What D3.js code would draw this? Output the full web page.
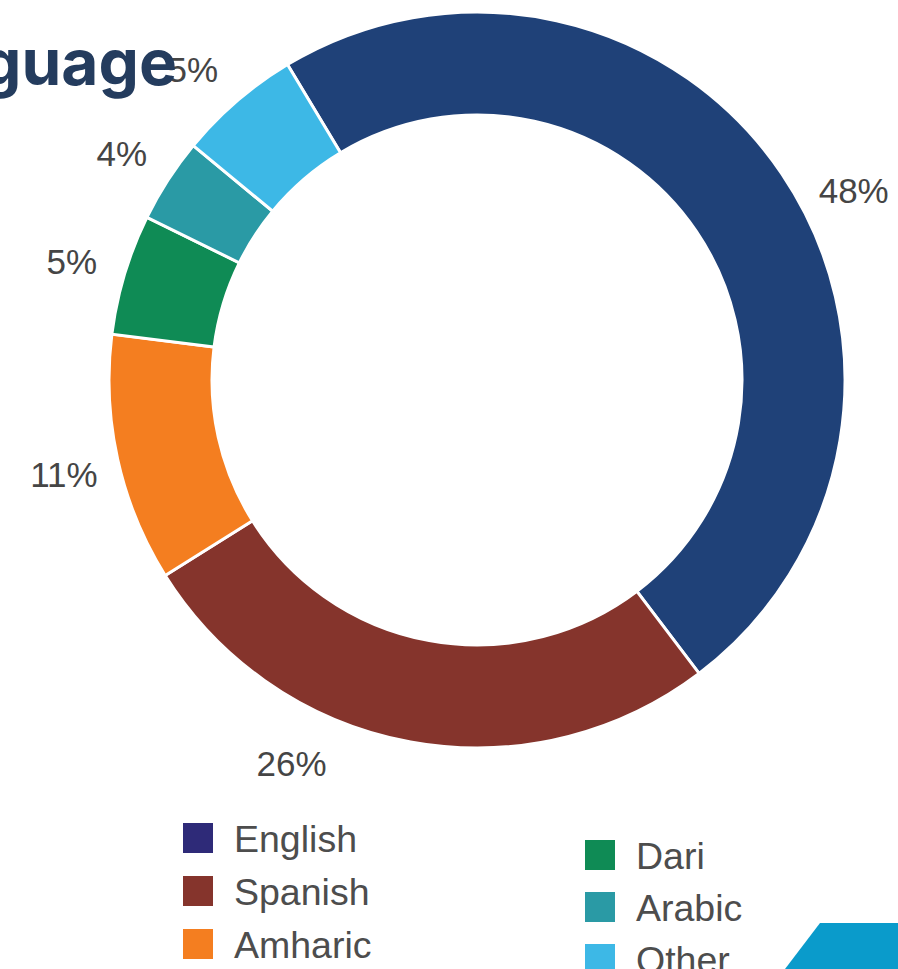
<!DOCTYPE html>
<html><head><meta charset="utf-8">
<script src="https://cdn.jsdelivr.net/npm/d3@7"></script>
<style>html,body{margin:0;padding:0;background:#fff;overflow:hidden}</style>
</head><body>
<svg id="chart" width="898" height="969"></svg>
<script>
const categories = ["English", "Spanish", "Amharic", "Dari", "Arabic", "Other"];
const values = [48.3, 26.4, 10.9, 5.3, 3.7, 5.4];
const sliceColors = ["#1f4178", "#85342c", "#f47e20", "#0f8b55", "#2a9aa5", "#3db8e6"];
const legendColors = ["#2e2a78", "#85342c", "#f47e20", "#0f8b55", "#2a9aa5", "#3db8e6"];
const title = "Language";

const svg = d3.select("#chart");
const W = 898, H = 969;
const cx = 477, cy = 380, rOuter = 368, rInner = 265, rLabel = 423;
const startDeg = -31;
const labelShiftDeg = [7, 15.6, 0, 0, 0, -1.5];

const pie = d3.pie().sort(null).value(d => d)
  .startAngle(startDeg * Math.PI / 180)
  .endAngle((startDeg + 360) * Math.PI / 180);
const arcs = pie(values);
const arc = d3.arc().innerRadius(rInner).outerRadius(rOuter);
const labelArc = d3.arc().innerRadius(rLabel).outerRadius(rLabel);

const g = svg.append("g").attr("transform", `translate(${cx},${cy})`);
g.selectAll("path").data(arcs).join("path")
  .attr("d", arc)
  .attr("fill", (d, i) => sliceColors[i])
  .attr("stroke", "#ffffff")
  .attr("stroke-width", 3);

const total = d3.sum(values);
g.selectAll("text.lbl").data(arcs).join("text")
  .attr("class", "lbl")
  .attr("transform", (d, i) => {
    const s = labelShiftDeg[i] * Math.PI / 180;
    const c = labelArc.centroid({startAngle: d.startAngle + s, endAngle: d.endAngle + s});
    return `translate(${c[0]},${c[1] + 3})`;
  })
  .attr("text-anchor", "middle")
  .attr("dominant-baseline", "central")
  .attr("font-family", "Liberation Sans, Arial, sans-serif")
  .attr("font-size", 35)
  .attr("fill", "#454545")
  .text(d => Math.round(d.value / total * 100) + "%");

// legend
const legend = svg.append("g");
const cols = [{x: 183, y: 823, step: 53}, {x: 585, y: 840, step: 52}];
categories.forEach((c, i) => {
  const col = cols[Math.floor(i / 3)];
  const y = col.y + (i % 3) * col.step;
  legend.append("rect").attr("x", col.x).attr("y", y).attr("width", 30).attr("height", 30)
    .attr("fill", legendColors[i]);
  legend.append("text").attr("x", col.x + 51).attr("y", y + 29)
    .attr("font-family", "Liberation Sans, Arial, sans-serif")
    .attr("font-size", 37.5).attr("fill", "#4d4d4d").text(c);
});

// decorative shape bottom right
svg.append("path")
  .attr("d", d3.line()([[785, H], [820, 923], [W, 923], [W, H]]))
  .attr("fill", "#0a9bcb");

// title (partially off-canvas)
svg.append("text")
  .attr("x", 177).attr("y", 85)
  .attr("text-anchor", "end")
  .attr("font-family", "Inter, sans-serif")
  .attr("font-weight", 700)
  .attr("font-size", 64)
  .attr("fill", "#243c5e")
  .text(title);
</script>
</body></html>
